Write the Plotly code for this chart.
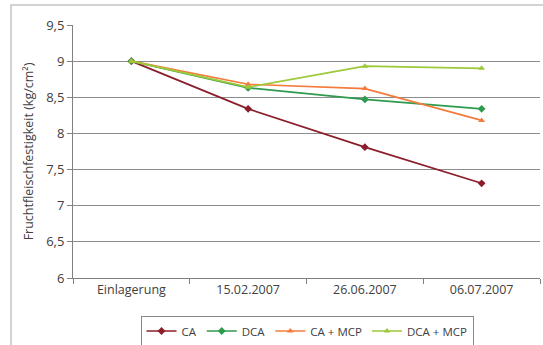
import plotly.graph_objects as go

categories = ["Einlagerung", "15.02.2007", "26.06.2007", "06.07.2007"]
ca = [9.0, 8.34, 7.81, 7.31]
dca = [9.0, 8.63, 8.47, 8.34]
ca_mcp = [9.0, 8.68, 8.62, 8.18]
dca_mcp = [9.0, 8.64, 8.93, 8.90]

series = [
    ("CA", ca, "#8B1E2A", "diamond"),
    ("DCA", dca, "#2E9B4E", "diamond"),
    ("CA + MCP", ca_mcp, "#F47B3C", "triangle-up"),
    ("DCA + MCP", dca_mcp, "#9DC93A", "triangle-up"),
]

fig = go.Figure()
for name, vals, col, sym in series:
    fig.add_trace(go.Scatter(
        x=categories, y=vals, name=name, mode="lines+markers",
        line=dict(color=col, width=1.7),
        marker=dict(symbol=sym, size=6, color=col),
    ))

W, H = 543, 345
L, R, T, B = 73, 3, 25, 67
pw, ph = W - L - R, H - T - B

def px2x(px):
    return (px - L) / pw

def py2y(py):
    return (H - B - py) / ph

fig.add_shape(type="rect", xref="paper", yref="paper",
              x0=px2x(11), x1=px2x(560), y0=py2y(5), y1=py2y(360),
              line=dict(color="#C4C4C4", width=1.5), layer="above")

fig.update_layout(
    width=W, height=H,
    margin=dict(l=L, r=R, t=T, b=B, autoexpand=False),
    paper_bgcolor="white", plot_bgcolor="white",
    separators=",.",
    font=dict(family="Open Sans", size=12, color="#404040"),
    showlegend=True,
    legend=dict(orientation="h", xanchor="center", x=px2x(307),
                yanchor="middle", y=py2y(331),
                bordercolor="#888888", borderwidth=1,
                font=dict(size=11.5, color="#404040"),
                itemwidth=30, tracegroupgap=0),
    xaxis=dict(
        type="category", range=[-0.5, 3.5], automargin=False,
        showgrid=False, showline=True, linecolor="#808080", linewidth=1,
        ticks="outside", tickson="boundaries", ticklen=5, tickcolor="#808080",
        tickfont=dict(size=12.5, color="#404040"),
        fixedrange=True,
    ),
    yaxis=dict(
        range=[6, 9.5], dtick=0.5, tick0=6, automargin=False,
        showgrid=True, gridcolor="#8C8C8C", gridwidth=1,
        showline=True, linecolor="#808080", linewidth=1,
        ticks="outside", ticklen=5, tickcolor="#808080",
        tickfont=dict(size=13, color="#404040"),
        zeroline=False,
        title=dict(text="Fruchtfleischfestigkeit (kg/cm²)", standoff=9,
                   font=dict(size=12.5, color="#404040")),
    ),
)

fig.write_html("out.html", config={"displayModeBar": False},
               post_script="document.body.style.margin='0';document.body.style.padding='0';")
